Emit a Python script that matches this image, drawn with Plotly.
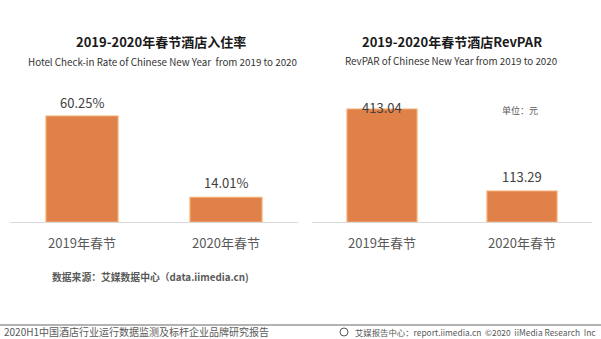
import plotly.graph_objects as go

W, H = 601, 339

categories = ["2019年春节", "2020年春节"]
checkin_rate = [60.25, 14.01]
checkin_labels = ["60.25%", "14.01%"]
revpar = [413.04, 113.29]
revpar_labels = ["413.04", "113.29"]

title_left = "2019-2020年春节酒店入住率"
sub_left = "Hotel Check-in Rate of Chinese New Year  from 2019 to 2020"
title_right = "2019-2020年春节酒店RevPAR"
sub_right = "RevPAR of Chinese New Year from 2019 to 2020"
unit_text = "单位：元"
source_text = "数据来源：艾媒数据中心（data.iimedia.cn)"
footer_left = "2020H1中国酒店行业运行数据监测及标杆企业品牌研究报告"
footer_right = "艾媒报告中心：report.iimedia.cn  ©2020  iiMedia Research  Inc"

FONT = "Noto Sans CJK SC"
BAR = "#E0814A"
BAR_LINE = "#F3AE72"

def px_x(p):
    return p / W

def px_y(p):
    return 1 - p / H

fig = go.Figure()

fig.add_trace(go.Bar(x=categories, y=checkin_rate, width=0.5,
                     marker=dict(color=BAR, line=dict(color=BAR_LINE, width=1.2)),
                     xaxis="x", yaxis="y", hoverinfo="skip"))
fig.add_trace(go.Bar(x=categories, y=revpar, width=0.5,
                     marker=dict(color=BAR, line=dict(color=BAR_LINE, width=1.2)),
                     xaxis="x2", yaxis="y2", hoverinfo="skip"))

base = 222
top = 90
ydom = [px_y(base), px_y(top)]

xa = dict(type="category", range=[-0.5, 1.5], showline=True, linecolor="#D9D9D9",
          linewidth=1, ticks="", showgrid=False, zeroline=False,
          tickfont=dict(family=FONT, size=13, color="#595959"),
          ticklabelstandoff=9, fixedrange=True)
ya = dict(showticklabels=False, showgrid=False, zeroline=False, showline=False,
          domain=ydom, fixedrange=True)

fig.update_layout(
    width=W, height=H,
    margin=dict(l=0, r=0, t=0, b=0),
    paper_bgcolor="white", plot_bgcolor="white",
    showlegend=False, bargap=0.5,
    xaxis=dict(xa, domain=[px_x(10), px_x(298)], anchor="y"),
    yaxis=dict(ya, range=[0, 132 * 60.25 / 106], anchor="x"),
    xaxis2=dict(xa, domain=[px_x(312), px_x(592)], anchor="y2"),
    yaxis2=dict(ya, range=[0, 132 * 413.04 / 113], anchor="x2"),
)

ann = []
shifts_left = [2, 3]
shifts_right = [-10, 3]
for c, v, t, s in zip(categories, checkin_rate, checkin_labels, shifts_left):
    ann.append(dict(x=c, y=v, xref="x", yref="y", text=t, showarrow=False,
                    yanchor="bottom", yshift=s,
                    font=dict(family=FONT, size=13, color="#404040")))
for c, v, t, s in zip(categories, revpar, revpar_labels, shifts_right):
    ann.append(dict(x=c, y=v, xref="x2", yref="y2", text=t, showarrow=False,
                    yanchor="bottom", yshift=s,
                    font=dict(family=FONT, size=13, color="#404040")))

def ptext(x, y, text, size, color, bold=False, xanchor="center"):
    if bold:
        text = "<b>" + text + "</b>"
    return dict(x=px_x(x), y=px_y(y), xref="paper", yref="paper", text=text,
                showarrow=False, xanchor=xanchor, yanchor="middle",
                font=dict(family=FONT, size=size, color=color))

ann.append(ptext(161, 42, title_left, 13, "#1a1a1a", bold=True))
ann.append(ptext(162, 62, sub_left, 9.8, "#333333"))
ann.append(ptext(452, 42, title_right, 13, "#1a1a1a", bold=True))
ann.append(ptext(451, 61, sub_right, 9.8, "#333333"))
ann.append(ptext(520, 110, unit_text, 9, "#595959"))
ann.append(ptext(50, 277, source_text, 9.8, "#595959", bold=True, xanchor="left"))
ann.append(ptext(2, 331.5, footer_left, 10, "#595959", xanchor="left"))
ann.append(ptext(598, 331.5, footer_right, 8.4, "#595959", xanchor="right"))

fig.update_layout(annotations=ann)

fig.add_shape(type="line", xref="paper", yref="paper",
              x0=0, x1=1, y0=px_y(325), y1=px_y(325),
              line=dict(color="#9A9A9A", width=1.5))
fig.add_shape(type="circle", xref="paper", yref="paper",
              x0=px_x(340), x1=px_x(348), y0=px_y(336), y1=px_y(328),
              line=dict(color="#595959", width=1))

fig.write_html("out.html")
